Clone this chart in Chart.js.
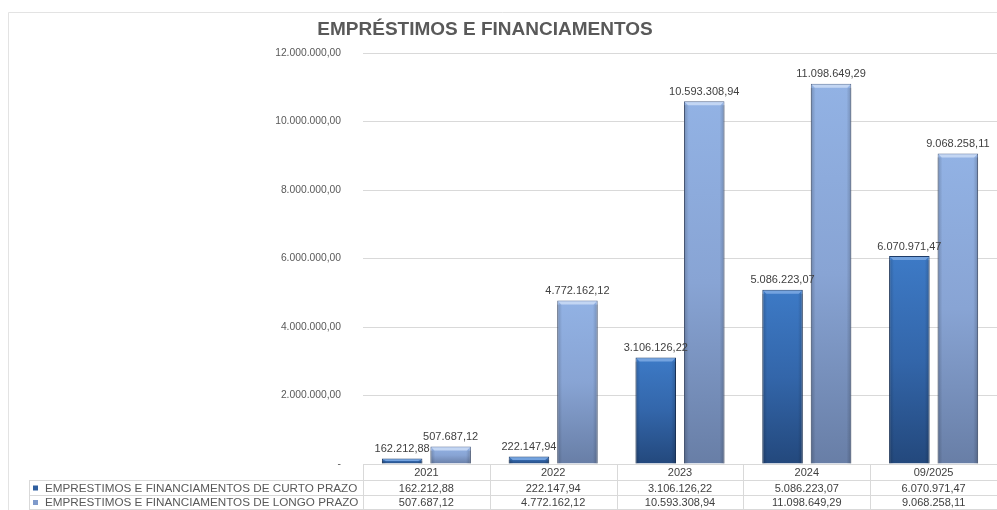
<!DOCTYPE html>
<html>
<head>
<meta charset="utf-8">
<script src="https://cdn.jsdelivr.net/npm/chart.js@4"></script>
<style>
html,body{margin:0;padding:0;background:#fff;}
#wrap{width:997px;height:510px;position:relative;}
</style>
</head>
<body>
<div id="wrap"><canvas id="c" width="997" height="510"></canvas></div>
<script>
const chartTitle = 'EMPRÉSTIMOS E FINANCIAMENTOS';
const categories = ['2021', '2022', '2023', '2024', '09/2025'];
const seriesNames = ['EMPRESTIMOS E FINANCIAMENTOS DE CURTO PRAZO', 'EMPRESTIMOS E FINANCIAMENTOS DE LONGO PRAZO'];
const curtoPrazo = [162212.88, 222147.94, 3106126.22, 5086223.07, 6070971.47];
const longoPrazo = [507687.12, 4772162.12, 10593308.94, 11098649.29, 9068258.11];
const yTicks = [0, 2000000, 4000000, 6000000, 8000000, 10000000, 12000000];

function fmt(v) {
  const s = Math.abs(v).toFixed(2);
  let [i, d] = s.split('.');
  i = i.replace(/\B(?=(\d{3})+(?!\d))/g, '.');
  return (v < 0 ? '-' : '') + i + ',' + d;
}

const palette = [
  {top: '#3d7ac6', mid: '#3366aa', bot: '#23487c', border: '#1e3c68', cap: '#74a3df', legend: '#2f5f9f'},
  {top: '#92b2e4', mid: '#88a4d4', bot: '#687ea6', border: '#56698c', cap: '#c3d6f3', legend: '#7f9acb'}
];

function barGradient(ctx, di) {
  const chart = ctx.chart;
  const y = chart.scales.y;
  const p = palette[di];
  if (!y || ctx.parsed === undefined || ctx.parsed === null) return p.mid;
  const top = y.getPixelForValue(ctx.parsed.y);
  const base = y.getPixelForValue(0);
  if (!isFinite(top) || !isFinite(base) || base - top < 1) return p.mid;
  const g = chart.ctx.createLinearGradient(0, top, 0, base);
  g.addColorStop(0, p.top);
  g.addColorStop(0.5, p.mid);
  g.addColorStop(1, p.bot);
  return g;
}

const framePlugin = {
  id: 'frame',
  beforeDraw(chart) {
    const c = chart.ctx;
    c.save();
    c.strokeStyle = '#e3e3e3';
    c.lineWidth = 1;
    c.beginPath();
    c.moveTo(8.5, 510);
    c.lineTo(8.5, 12.5);
    c.lineTo(997, 12.5);
    c.stroke();
    c.fillStyle = '#595959';
    c.font = 'bold 19px "Liberation Sans", Arial, sans-serif';
    c.textAlign = 'center';
    c.textBaseline = 'middle';
    c.fillText(chartTitle, 485, 30);
    c.restore();
  }
};

const bevelPlugin = {
  id: 'bevel',
  afterDatasetsDraw(chart) {
    const c = chart.ctx;
    c.save();
    chart.data.datasets.forEach((ds, di) => {
      const meta = chart.getDatasetMeta(di);
      meta.data.forEach((bar) => {
        const h = bar.base - bar.y;
        if (h < 3) return;
        const w = bar.width;
        const l = bar.x - w / 2, r = bar.x + w / 2;
        const cap = Math.min(4, h / 2);
        c.fillStyle = palette[di].cap;
        c.beginPath();
        c.moveTo(l + 1, bar.y + 1);
        c.lineTo(r - 1, bar.y + 1);
        c.lineTo(r - 4, bar.y + cap);
        c.lineTo(l + 4, bar.y + cap);
        c.closePath();
        c.fill();
        const gl = c.createLinearGradient(l, 0, r, 0);
        gl.addColorStop(0, 'rgba(0,0,0,0.2)');
        gl.addColorStop(0.12, 'rgba(0,0,0,0)');
        gl.addColorStop(0.88, 'rgba(0,0,0,0)');
        gl.addColorStop(1, 'rgba(0,0,0,0.2)');
        c.fillStyle = gl;
        c.fillRect(l, bar.y + cap, w, h - cap);
      });
    });
    c.restore();
  }
};

const labelPlugin = {
  id: 'valueLabels',
  afterDatasetsDraw(chart) {
    const c = chart.ctx;
    c.save();
    c.font = '11px "Liberation Sans", Arial, sans-serif';
    c.fillStyle = '#404040';
    c.textAlign = 'center';
    c.textBaseline = 'bottom';
    chart.data.datasets.forEach((ds, di) => {
      const meta = chart.getDatasetMeta(di);
      meta.data.forEach((bar, i) => {
        c.fillText(fmt(ds.data[i]), bar.x, bar.y - 4);
      });
    });
    c.restore();
  }
};

const tablePlugin = {
  id: 'dataTable',
  afterDraw(chart) {
    const c = chart.ctx;
    const x = chart.scales.x;
    const area = chart.chartArea;
    const n = categories.length;
    const colW = (area.right - area.left) / n;
    const rows = [area.bottom, 480, 495, 509];
    const leftX = 29;
    c.save();
    c.strokeStyle = '#d9d9d9';
    c.lineWidth = 1;
    c.beginPath();
    c.moveTo(area.left, rows[0] + 0.5); c.lineTo(area.right, rows[0] + 0.5);
    for (let r = 1; r < rows.length; r++) {
      c.moveTo(leftX, rows[r] + 0.5); c.lineTo(area.right, rows[r] + 0.5);
    }
    for (let k = 0; k <= n; k++) {
      const xx = Math.round(area.left + k * colW) + 0.5;
      c.moveTo(xx, rows[0]); c.lineTo(xx, rows[3] + 1);
    }
    c.moveTo(leftX + 0.5, rows[1]); c.lineTo(leftX + 0.5, rows[3] + 1);
    c.stroke();

    c.font = '11px "Liberation Sans", Arial, sans-serif';
    c.fillStyle = '#404040';
    c.textBaseline = 'middle';
    c.textAlign = 'center';
    categories.forEach((cat, i) => {
      const cx = x.getPixelForValue(i);
      c.fillText(cat, cx, (rows[0] + rows[1]) / 2 + 1);
      c.fillText(fmt(curtoPrazo[i]), cx, (rows[1] + rows[2]) / 2 + 1);
      c.fillText(fmt(longoPrazo[i]), cx, (rows[2] + rows[3]) / 2 + 1);
    });
    c.textAlign = 'left';
    c.font = '11.7px "Liberation Sans", Arial, sans-serif';
    seriesNames.forEach((name, si) => {
      const cy = (rows[si + 1] + rows[si + 2]) / 2 + 1;
      c.fillStyle = palette[si].legend;
      c.fillRect(33, cy - 3, 5, 5);
      c.fillStyle = '#595959';
      c.fillText(name, 45, cy);
    });
    c.restore();
  }
};

new Chart(document.getElementById('c'), {
  type: 'bar',
  data: {
    labels: categories,
    datasets: [
      {label: seriesNames[0], data: curtoPrazo,
       backgroundColor: (ctx) => barGradient(ctx, 0),
       borderColor: palette[0].border, borderWidth: 1,
       categoryPercentage: 0.765, barPercentage: 0.835},
      {label: seriesNames[1], data: longoPrazo,
       backgroundColor: (ctx) => barGradient(ctx, 1),
       borderColor: palette[1].border, borderWidth: 1,
       categoryPercentage: 0.765, barPercentage: 0.835}
    ]
  },
  options: {
    responsive: false,
    animation: false,
    layout: {padding: {top: 53, right: 0, bottom: 46, left: 0}},
    plugins: {
      legend: {display: false},
      title: {display: false},
      tooltip: {enabled: false}
    },
    scales: {
      x: {display: false},
      y: {
        min: 0, max: 12000000,
        afterBuildTicks(scale) { scale.ticks = yTicks.map(v => ({value: v})); },
        afterFit(scale) { scale.width = 363; },
        border: {display: false},
        grid: {color: '#d9d9d9', drawTicks: false, lineWidth: 1},
        ticks: {
          padding: 22,
          color: '#595959',
          font: {family: '"Liberation Sans", Arial, sans-serif', size: 10.3},
          callback: (v) => v === 0 ? '-' : fmt(v)
        }
      }
    }
  },
  plugins: [framePlugin, bevelPlugin, labelPlugin, tablePlugin]
});
</script>
</body>
</html>
